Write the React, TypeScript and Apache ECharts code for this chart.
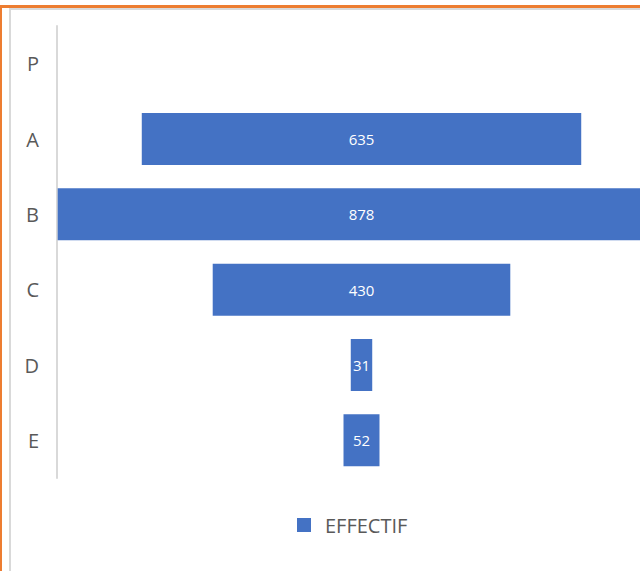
import React, { useEffect, useRef } from "react";
import * as echarts from "echarts";

const categories = ["P", "A", "B", "C", "D", "E"];
const effectif: (number | null)[] = [null, 635, 878, 430, 31, 52];
const centerValue = 440;
const axisMax = 880;

export default function App() {
  const ref = useRef<HTMLDivElement>(null);
  useEffect(() => {
    const chart = echarts.init(ref.current!, undefined, { renderer: "svg" });
    const offsets = effectif.map((v) => (v == null ? null : centerValue - v / 2));
    const font = "'Open Sans', 'Noto Sans', sans-serif";
    chart.setOption({
      animation: false,
      backgroundColor: "#ffffff",
      grid: { left: 57, right: 0, top: 26, bottom: 93, containLabel: false },
      xAxis: {
        type: "value",
        min: 0,
        max: axisMax,
        show: false,
      },
      yAxis: {
        type: "category",
        data: categories,
        inverse: true,
        axisLine: { show: true, lineStyle: { color: "#D9D9D9", width: 2 } },
        axisTick: { show: false },
        axisLabel: { color: "#595959", fontSize: 20, margin: 18, fontFamily: font },
        splitLine: { show: false },
      },
      legend: {
        data: ["EFFECTIF"],
        left: 292,
        top: 510,
        itemWidth: 14,
        itemHeight: 14,
        icon: "rect",
        textStyle: { color: "#595959", fontSize: 20, fontFamily: font, padding: [0, 0, 0, 9] },
      },
      series: [
        {
          name: "offset",
          type: "bar",
          stack: "f",
          data: offsets,
          itemStyle: { color: "transparent" },
          emphasis: { disabled: true },
          silent: true,
          barWidth: 52,
        },
        {
          name: "EFFECTIF",
          type: "bar",
          stack: "f",
          data: effectif,
          barWidth: 52,
          itemStyle: { color: "#4472C4" },
          label: {
            show: true,
            position: "inside",
            color: "#ffffff",
            fontSize: 15,
            fontFamily: font,
          },
        },
      ],
      graphic: [
        { type: "rect", shape: { x: 9, y: 8, width: 640, height: 2 }, style: { fill: "#D9D9D9" } },
        { type: "rect", shape: { x: 9, y: 8, width: 2, height: 571 }, style: { fill: "#D9D9D9" } },
        { type: "rect", shape: { x: 0, y: 5, width: 640, height: 3 }, style: { fill: "#ED7D31" } },
        { type: "rect", shape: { x: 0, y: 5, width: 2, height: 571 }, style: { fill: "#ED7D31" } },
      ],
    });
    return () => chart.dispose();
  }, []);
  return (
    <div style={{ position: "fixed", left: 0, top: 0, width: 640, height: 571, overflow: "hidden" }}>
      <div ref={ref} style={{ width: 666, height: 571 }} />
    </div>
  );
}
